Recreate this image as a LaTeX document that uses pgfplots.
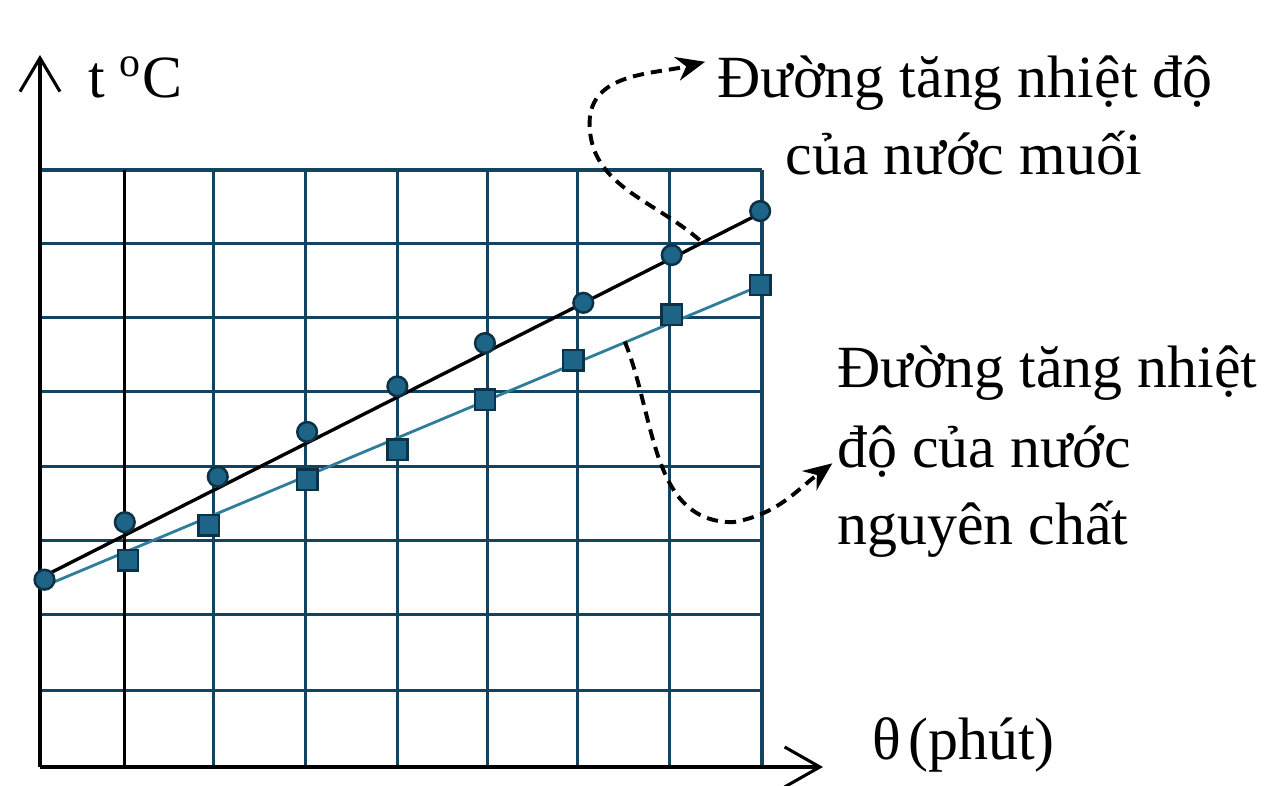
\documentclass[border=0pt]{standalone}
\usepackage{fontspec}
\setmainfont{Liberation Serif}
\usepackage{pgfplots}
\pgfplotsset{compat=1.18}
\usetikzlibrary{arrows.meta}

\definecolor{gridc}{RGB}{18,68,98}
\definecolor{purec}{RGB}{45,125,155}
\definecolor{markc}{RGB}{30,100,135}
\definecolor{markd}{RGB}{12,50,72}
\newcommand\lbl{\fontsize{21.3}{27.7}\selectfont}

\begin{document}
\begin{tikzpicture}
\begin{axis}[%
width=9.025cm,
height=7.4625cm,
scale only axis,
xmin=0, xmax=8,
ymin=0, ymax=8,
clip=false,
axis lines=left,
x axis line style={line width=1.1pt, black, -{Straight Barb[length=0.44cm,width=0.5cm]}, shorten >=-0.7625cm},
y axis line style={line width=1.1pt, black, -{Straight Barb[length=0.42cm,width=0.5cm]}, shorten >=-1.4375cm},
xtick={1.92,2.94,3.96,4.96,5.96,6.98,8},
ytick={1.03,2.04,3.04,4.03,5.03,6.02,7.02,8},
xticklabels={}, yticklabels={},
extra x ticks={0.94},
extra x tick labels={},
extra x tick style={major grid style={draw=black, line width=1.1pt}},
tick style={draw=none},
major tick length=0pt,
grid=major,
major grid style={draw=gridc, line width=1.1pt},
]

% salt water
\addplot[black, line width=1.2pt] coordinates {(0,2.53) (8,7.43)};
% pure water
\addplot[purec, line width=1pt] coordinates {(0,2.40) (8,6.46)};

\addplot[only marks, mark=*, mark size=3.5pt,
  mark options={fill=markc, draw=markd, line width=0.9pt}] coordinates {
(0.05,2.51) (0.94,3.28) (1.97,3.89) (2.96,4.49) (3.96,5.10)
(4.93,5.68) (6.02,6.22) (7.00,6.86) (7.98,7.45)
};
\addplot[only marks, mark=square*, mark size=3.6pt,
  mark options={fill=markc, draw=markd, line width=0.9pt}] coordinates {
(0.975,2.77) (1.87,3.24) (2.96,3.85) (3.96,4.25)
(4.93,4.92) (5.91,5.45) (7.00,6.06) (7.98,6.46)
};

% labels
\node[anchor=base west, inner sep=0] at (axis cs:0.53,8.965) {\lbl t \textsuperscript{o}C};
\node[anchor=base west, inner sep=0] at (axis cs:9.22,0.094) {\lbl θ\kern2.5pt(phút)};
\node[anchor=base, inner sep=0] at (axis cs:10.25,8.965) {\lbl Đường tăng nhiệt độ};
\node[anchor=base, inner sep=0] at (axis cs:10.24,7.933) {\lbl của nước muối};
\node[anchor=base west, inner sep=0] at (axis cs:8.83,5.08) {\lbl Đường tăng nhiệt};
\node[anchor=base west, inner sep=0] at (axis cs:8.83,4.01) {\lbl độ của nước};
\node[anchor=base west, inner sep=0] at (axis cs:8.83,2.975) {\lbl nguyên chất};

% pointer arrows
\draw[line width=1.4pt, dash pattern=on 4pt off 2.5pt, -{Stealth[length=0.36cm,width=0.3cm]}]
  (axis cs:7.31,7.06) to[out=139,in=-90] (axis cs:6.09,8.63) to[out=90,in=194] (axis cs:7.37,9.45);
\draw[line width=1.4pt, dash pattern=on 4pt off 2.5pt, -{Stealth[length=0.36cm,width=0.3cm]}]
  (axis cs:6.48,5.70) to[out=-68,in=180] (axis cs:7.68,3.28) to[out=10,in=217] (axis cs:8.78,4.07);

\coordinate (bl) at (axis cs:-0.443,-0.2546);
\coordinate (tr) at (axis cs:13.74,10.278);
\end{axis}
\pgfresetboundingbox
\useasboundingbox (bl) rectangle (tr);
\end{tikzpicture}
\end{document}
